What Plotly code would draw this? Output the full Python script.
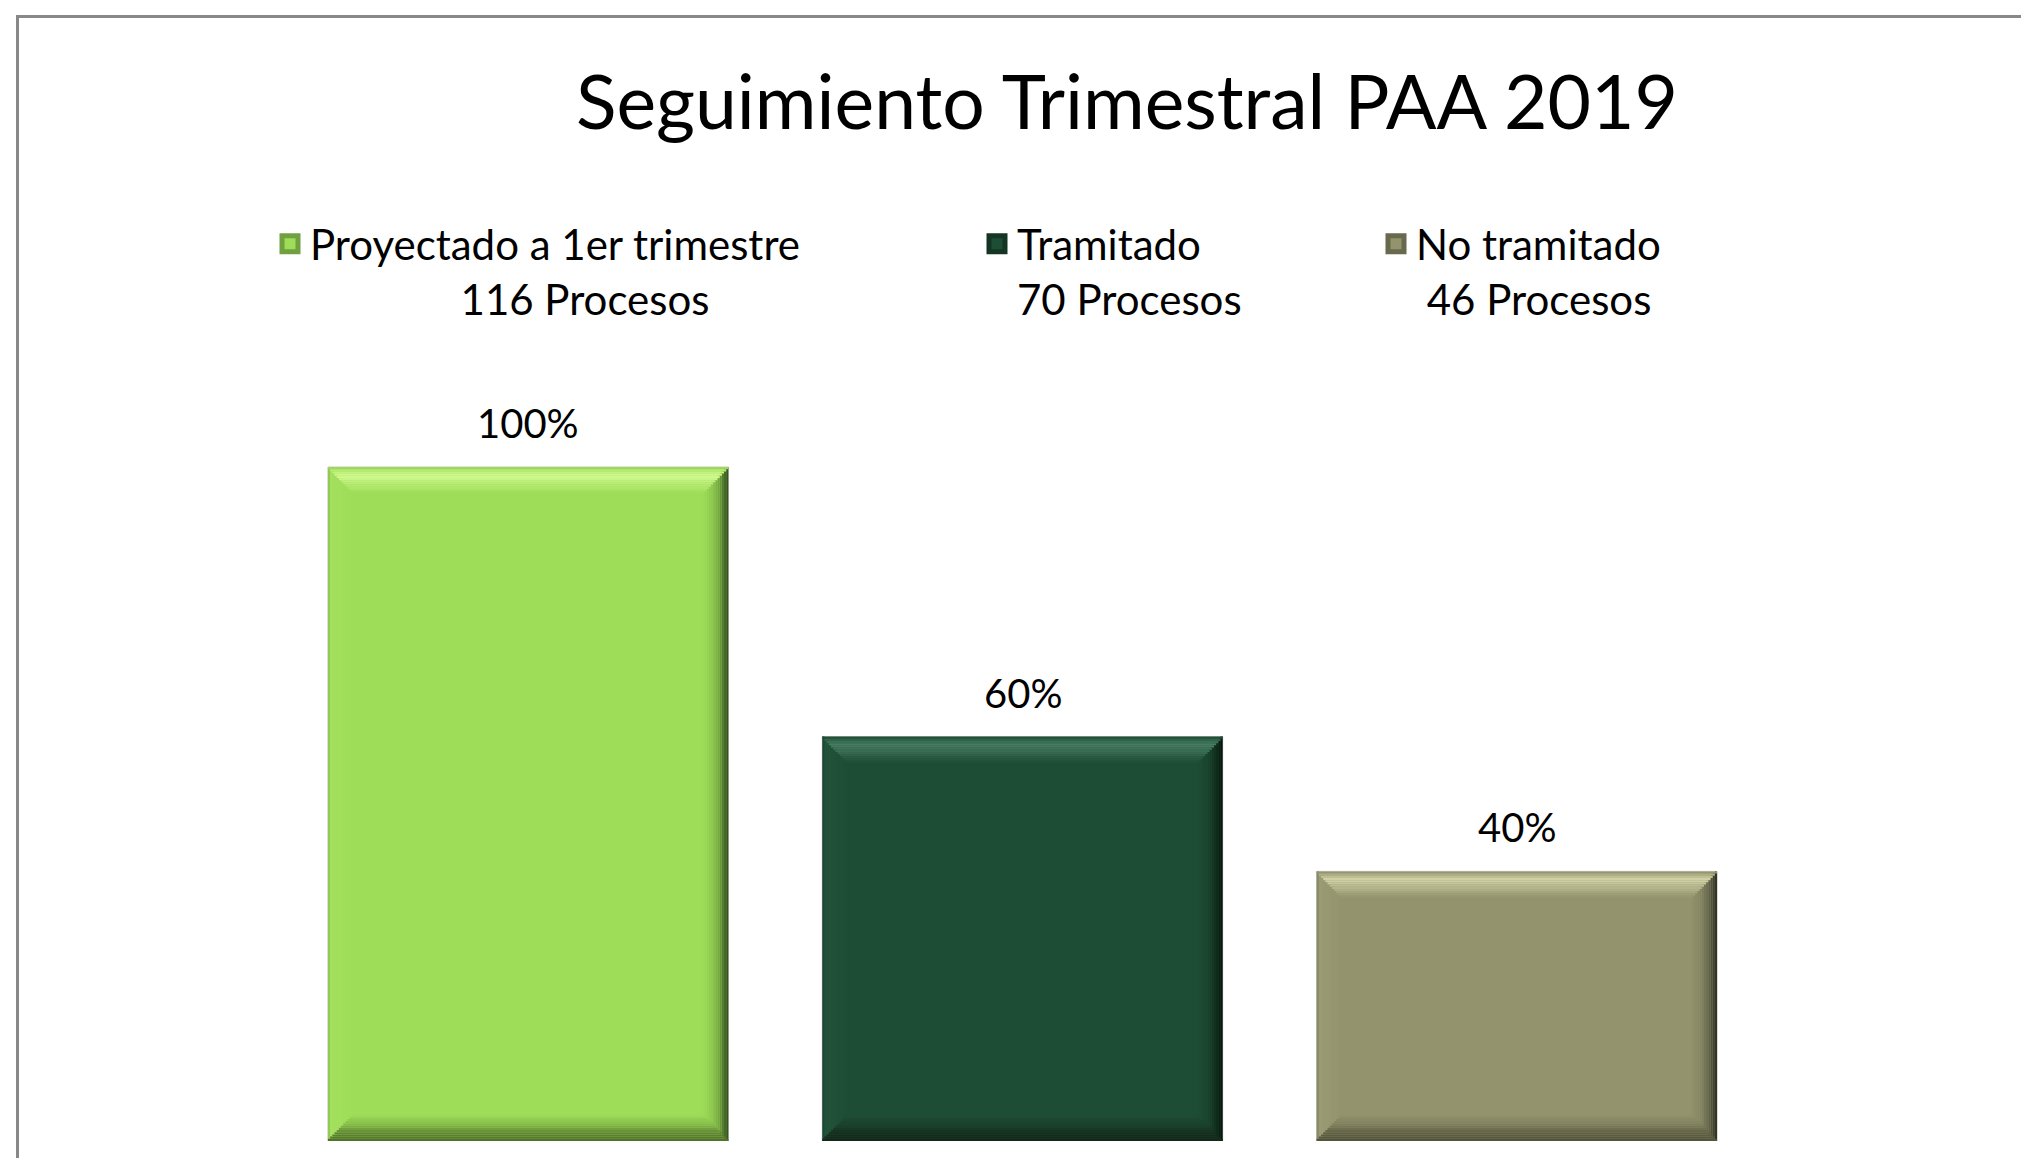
import plotly.graph_objects as go

# ---- data ----
categories = ["Proyectado a 1er trimestre", "Tramitado", "No tramitado"]
procesos = [116, 70, 46]
porcentaje = [100, 60, 40]
legend_line2 = ["116 Procesos", "70 Procesos", "46 Procesos"]
title_text = "Seguimiento Trimestral PAA 2019"

# ---- style ----
main_colors = ["#9EDD58", "#1E4D36", "#93946D"]
hi_colors = ["#D2FB92", "#4A8064", "#D4D4A8"]
dark_colors = ["#2A441A", "#051208", "#28291D"]
bot_colors = ["#4F6E2B", "#132619", "#52523B"]
FONT = "Lato"
W = 0.81      # bar width (category units)
BX = 0.053    # bevel thickness, x (category units)
BY = 3.9      # bevel thickness, y (percent units)
NSTEP = 12


def hex2rgb(h):
    h = h.lstrip("#")
    return tuple(int(h[i:i + 2], 16) for i in (0, 2, 4))


def mix(a, b, k):
    return tuple(x + (y - x) * k for x, y in zip(a, b))


def rgbstr(c):
    return "rgb(%d,%d,%d)" % tuple(round(x) for x in c)


# bevel profiles: (depth from outer edge 0..1, target, strength)
profiles = {
    "top": [(0.0, "dark", 0.12), (0.1, "hi", 0.35), (0.32, "hi", 1.0), (0.6, "hi", 0.55), (1.0, "hi", 0.0)],
    "right": [(0.0, "dark", 0.97), (0.15, "dark", 0.72), (0.35, "dark", 0.38), (0.6, "dark", 0.14), (1.0, "dark", 0.0)],
    "bottom": [(0.0, "bot", 1.0), (0.3, "bot", 0.78), (0.6, "bot", 0.35), (1.0, "bot", 0.0)],
    "left": [(0.0, "dark", 0.2), (0.12, "hi", 0.12), (1.0, "hi", 0.0)],
}


def profile_color(name, t, main, targets):
    pts = profiles[name]
    cols = [mix(main, targets[key], k) for _, key, k in pts]
    for (t0, _, _), (t1, _, _), c0, c1 in zip(pts[:-1], pts[1:], cols[:-1], cols[1:]):
        if t0 <= t <= t1:
            return rgbstr(mix(c0, c1, (t - t0) / (t1 - t0)))
    return rgbstr(cols[-1])


fig = go.Figure()

for i, (cat, v) in enumerate(zip(categories, porcentaje)):
    main = hex2rgb(main_colors[i])
    targets = {"hi": hex2rgb(hi_colors[i]), "dark": hex2rgb(dark_colors[i]),
               "bot": hex2rgb(bot_colors[i])}
    # main bar
    fig.add_trace(go.Bar(
        x=[cat], y=[v], width=W, marker=dict(color=main_colors[i], line=dict(width=1, color="#C8C8C8")),
        showlegend=False, name=cat,
        hovertemplate="%{x}: %{y}%<extra></extra>"))
    # bevel strips (mitered at corners)
    for s in range(NSTEP):
        t0, t1 = s / NSTEP, (s + 1) / NSTEP
        tm = (t0 + t1) / 2
        common = dict(x=[cat], showlegend=False, hoverinfo="skip")
        # left
        fig.add_trace(go.Bar(y=[v - 2 * t0 * BY], base=[t0 * BY], width=(t1 - t0) * BX,
                             offset=-W / 2 + t0 * BX,
                             marker=dict(color=profile_color("left", tm, main, targets), line=dict(width=0)),
                             **common))
        # right
        fig.add_trace(go.Bar(y=[v - 2 * t0 * BY], base=[t0 * BY], width=(t1 - t0) * BX,
                             offset=W / 2 - t1 * BX,
                             marker=dict(color=profile_color("right", tm, main, targets), line=dict(width=0)),
                             **common))
        # top
        fig.add_trace(go.Bar(y=[(t1 - t0) * BY], base=[v - t1 * BY], width=W - 2 * t0 * BX,
                             marker=dict(color=profile_color("top", tm, main, targets), line=dict(width=0)),
                             **common))
        # bottom
        fig.add_trace(go.Bar(y=[(t1 - t0) * BY], base=[t0 * BY], width=W - 2 * t0 * BX,
                             marker=dict(color=profile_color("bottom", tm, main, targets), line=dict(width=0)),
                             **common))
    # data label
    fig.add_annotation(x=cat, y=v, text=f"{v}%", showarrow=False, yanchor="bottom",
                       yshift=18, font=dict(family=FONT, size=40, color="#000000"))

# legend entries (one legend box per series, Excel-style layout)
legend_ids = ["legend", "legend2", "legend3"]
legend_x = [262, 969, 1368]
pads = [14, 0, 1]
for i, cat in enumerate(categories):
    label = cat + "<br>" + "\u00a0" * pads[i] + legend_line2[i]
    fig.add_trace(go.Scatter(
        x=[None], y=[None], mode="markers", name=label, legend=legend_ids[i],
        marker=dict(symbol="square", size=16, color=main_colors[i],
                    line=dict(width=5, color=rgbstr(mix(hex2rgb(main_colors[i]),
                                                        hex2rgb(dark_colors[i]), 0.4))))))

legend_common = dict(xref="container", yref="container", yanchor="top", xanchor="left",
                     orientation="v", valign="top", itemsizing="trace",
                     font=dict(family=FONT, size=42, color="#000000"),
                     bgcolor="rgba(0,0,0,0)", borderwidth=0)

# figure size accounts for the 8px default page margin
FW, FH = 2013, 1150
ML, MR, MT, MB = 273, 257, 392, 17
PW, PH = FW - ML - MR, FH - MT - MB


def px_x(p):
    return (p - ML) / PW


def px_y(p):
    return (FH - MB - p) / PH


layout = dict(
    width=FW, height=FH,
    margin=dict(l=ML, r=MR, t=MT, b=MB, autoexpand=False),
    paper_bgcolor="white", plot_bgcolor="white",
    barmode="overlay",
    title=dict(text=title_text, x=1119 / FW, xanchor="center", xref="container",
               y=1 - 95 / FH, yanchor="middle", yref="container",
               font=dict(family=FONT, size=75, color="#000000")),
    xaxis=dict(visible=False, range=[-0.5, 2.5], categoryorder="array", categoryarray=categories),
    yaxis=dict(visible=False, range=[0, 100 * PH / 674]),
    shapes=[dict(type="rect", xref="paper", yref="paper",
                 x0=px_x(9.5), x1=px_x(2200), y0=px_y(1250), y1=px_y(8.5),
                 line=dict(color="#888888", width=3), fillcolor="rgba(0,0,0,0)", layer="below")],
)
for i, lid in enumerate(legend_ids):
    layout[lid] = dict(legend_common, x=legend_x[i] / FW, y=1 - 202 / FH)

fig.update_layout(**layout)
fig.write_html("out.html")
